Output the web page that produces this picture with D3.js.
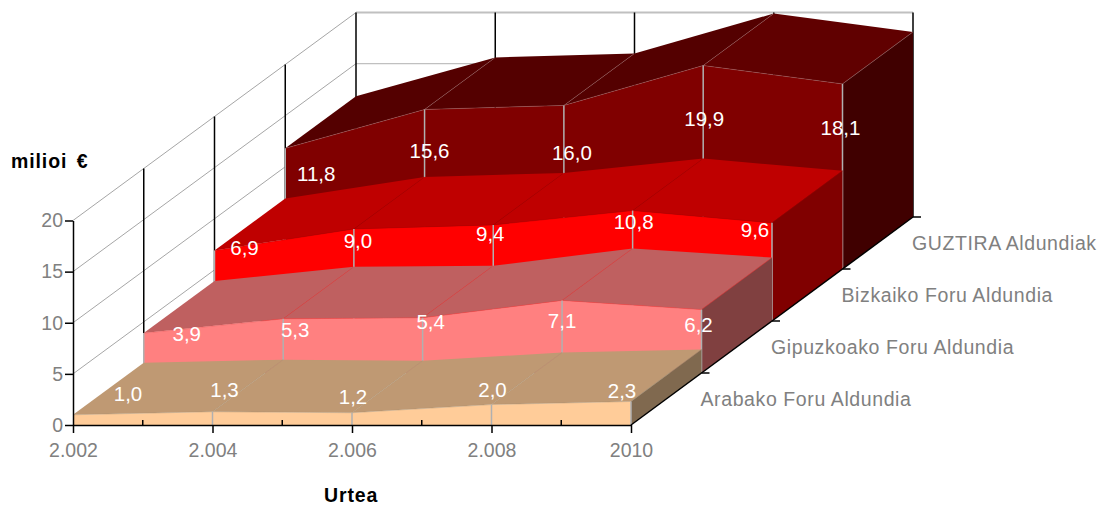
<!DOCTYPE html>
<html>
<head>
<meta charset="utf-8">
<script src="https://cdn.jsdelivr.net/npm/d3@7"></script>
<style>
  html, body { margin: 0; padding: 0; background: #fff; }
  text { font-family: "Liberation Sans", Arial, sans-serif; }
  .tick-label { fill: #808080; font-size: 19.5px; }
  .series-label { letter-spacing: 0.6px; }
  .title-label { fill: #000; font-size: 19.5px; font-weight: bold; letter-spacing: 0.9px; word-spacing: 3px; }
  .value-label { fill: #fff; font-size: 20.5px; text-anchor: middle; }
</style>
</head>
<body>
<svg id="chart" width="1101" height="505"></svg>
<script>
const YEARS = ["2.002", "2.004", "2.006", "2.008", "2010"];
const SERIES_NAMES = ["Arabako Foru Aldundia", "Gipuzkoako Foru Aldundia", "Bizkaiko Foru Aldundia", "GUZTIRA Aldundiak"];
const ARABA = [1.0, 1.3, 1.2, 2.0, 2.3];
const GIPUZKOA = [3.9, 5.3, 5.4, 7.1, 6.2];
const BIZKAIA = [6.9, 9.0, 9.4, 10.8, 9.6];
const GUZTIRA = [11.8, 15.6, 16.0, 19.9, 18.1];
const VALUE_TICKS = [0, 5, 10, 15, 20];

const FRONT_COLORS = ["#ffcc99", "#ff8080", "#ff0000", "#800000"];
const TOP_COLORS = ["#bf9973", "#bf6060", "#bf0000", "#540000"];
const TOP_FALLING_COLORS = ["#bf9973", "#bf6060", "#bf0000", "#600000"];
const SIDE_COLORS = ["#80694f", "#804040", "#800000", "#400000"];
const EDGE_COLORS = ["#a08a70", "#d84848", "#a00000", "#9a6a6a"];

// hand placed in the original, offset from each data point
const LABEL_NUDGE = [
  [[55, -14], [12, -15], [1, -9], [1, -8], [-9, -3]],
  [[43, 8], [12, 18], [8, 11], [0, 28], [-3, 22]],
  [[30, 5], [4, 19], [-3, 16], [1, 18], [-17, 14]],
  [[31, 33], [5, 49], [8, 55], [1, 60], [-2, 51]]
];

const DEPTH = SERIES_NAMES.length;
const YEAR_POS = d3.scalePoint().domain(YEARS).range([0, 1]);
const LEFT_X = d3.scaleLinear().domain([0, DEPTH]).range([73, 356]);
const RIGHT_X = d3.scaleLinear().domain([0, DEPTH]).range([631, 913]);
const X_SCALE = d3.scalePoint().domain(YEARS).range([LEFT_X(0), RIGHT_X(0)]);
const Y_SCALE = d3.scaleLinear().domain([0, 20]).range([425, 220.5]);
const DEPTH_Y = d3.scaleLinear().domain([0, DEPTH]).range([0, -208]);

// year, value and depth slot to screen position
function project(year, value, depth) {
  const x = d3.interpolateNumber(LEFT_X(depth), RIGHT_X(depth))(YEAR_POS(year));
  return [x, Y_SCALE(value) + DEPTH_Y(depth)];
}

function segmentLine(chart, from, to, color, width) {
  chart
    .append("line")
    .attr("x1", from[0])
    .attr("y1", from[1])
    .attr("x2", to[0])
    .attr("y2", to[1])
    .attr("stroke", color)
    .attr("stroke-width", width);
}

function polygon(chart, points, color) {
  chart
    .append("polygon")
    .attr("points", points.map(p => p.join(",")).join(" "))
    .attr("fill", color);
}

function createWalls(chart) {
  const LAST = YEARS[YEARS.length - 1];
  VALUE_TICKS.slice(1).forEach(tick => {
    segmentLine(chart, project(YEARS[0], tick, 0), project(YEARS[0], tick, DEPTH), "#a6a6a6", 1);
    segmentLine(chart, project(YEARS[0], tick, DEPTH), project(LAST, tick, DEPTH), "#c0c0c0", tick === 20 ? 2 : 1.2);
  });
  d3.range(1, DEPTH + 1).forEach(depth => {
    segmentLine(chart, project(YEARS[0], 0, depth), project(YEARS[0], 20, depth), "#000", 1.5);
  });
  YEARS.slice(1).forEach(year => {
    segmentLine(chart, project(year, 0, DEPTH), project(year, 20, DEPTH), "#000", 1.5);
  });
}

function createRibbon(chart, values, index) {
  const front = values.map((v, i) => project(YEARS[i], v, index));
  const back = values.map((v, i) => project(YEARS[i], v, index + 1));
  const last = YEARS.length - 1;

  d3.range(last).forEach(i => {
    const color = values[i + 1] < values[i] ? TOP_FALLING_COLORS[index] : TOP_COLORS[index];
    polygon(chart, [front[i], front[i + 1], back[i + 1], back[i]], color);
  });
  // depth edges between the year sections
  d3.range(1, last + 1).forEach(i => {
    segmentLine(chart, front[i], back[i], EDGE_COLORS[index], 0.4);
  });

  polygon(chart, [
    project(YEARS[last], 0, index),
    project(YEARS[last], 0, index + 1),
    back[last],
    front[last]
  ], SIDE_COLORS[index]);
  segmentLine(chart, front[last], back[last], EDGE_COLORS[index], 0.4);

  polygon(chart, [
    project(YEARS[0], 0, index),
    ...front,
    project(YEARS[last], 0, index)
  ], FRONT_COLORS[index]);
  d3.pairs(front).forEach(pair => segmentLine(chart, pair[0], pair[1], EDGE_COLORS[index], 0.4));

  d3.range(index === 0 ? 1 : 0, YEARS.length).forEach(i => {
    segmentLine(chart, project(YEARS[i], 0, index), front[i], "#b0b0b0", 1.5);
  });
}

function createAxes(chart) {
  const X_AXIS = d3.axisBottom(X_SCALE).tickSize(8).tickPadding(10).tickSizeOuter(0);
  const Y_AXIS = d3.axisLeft(Y_SCALE).tickValues(VALUE_TICKS).tickSize(8).tickPadding(2).tickSizeOuter(0);

  const xGroup = chart.append("g").attr("transform", `translate(0, ${Y_SCALE(0)})`).call(X_AXIS);
  const yGroup = chart.append("g").attr("transform", `translate(${X_SCALE(YEARS[0])}, 0)`).call(Y_AXIS);

  [xGroup, yGroup].forEach(group => {
    group.selectAll("path, line").attr("stroke", "#000").attr("stroke-width", 1.5);
    group.selectAll("text").attr("class", "tick-label").attr("font-size", null).attr("font-family", null);
  });

  // short marks between the labelled years
  d3.pairs(YEARS).forEach(pair => {
    const x = (X_SCALE(pair[0]) + X_SCALE(pair[1])) / 2;
    segmentLine(chart, [x, Y_SCALE(0)], [x, Y_SCALE(0) - 5], "#000", 1.5);
  });

  const LAST = YEARS[YEARS.length - 1];
  segmentLine(chart, project(LAST, 0, 0), project(LAST, 0, DEPTH), "#000", 1.5);

  SERIES_NAMES.forEach((name, depth) => {
    const base = project(LAST, 0, depth + 1);
    segmentLine(chart, base, [base[0] + 8, base[1]], "#000", 1.5);
    chart
      .append("text")
      .classed("tick-label", true)
      .classed("series-label", true)
      .attr("x", base[0] - 1)
      .attr("y", base[1] + 33)
      .text(name);
  });

  chart.append("text").classed("title-label", true).attr("x", 11).attr("y", 168).text("milioi €");
  chart.append("text").classed("title-label", true).attr("x", 324).attr("y", 502).text("Urtea");
}

function createValueLabels(chart, values, index) {
  chart
    .selectAll(`.value-${index}`)
    .data(values)
    .enter()
    .append("text")
    .classed("value-label", true)
    .classed(`value-${index}`, true)
    .attr("x", (v, i) => project(YEARS[i], v, index)[0] + LABEL_NUDGE[index][i][0])
    .attr("y", (v, i) => project(YEARS[i], v, index)[1] + LABEL_NUDGE[index][i][1])
    .text(v => v.toFixed(1).replace(".", ","));
}

function renderChart() {
  const chart = d3.select("#chart");
  const ALL = [ARABA, GIPUZKOA, BIZKAIA, GUZTIRA];
  createWalls(chart);
  d3.range(ALL.length - 1, -1, -1).forEach(index => createRibbon(chart, ALL[index], index));
  createAxes(chart);
  ALL.forEach((values, index) => createValueLabels(chart, values, index));
}

renderChart();
</script>
</body>
</html>
